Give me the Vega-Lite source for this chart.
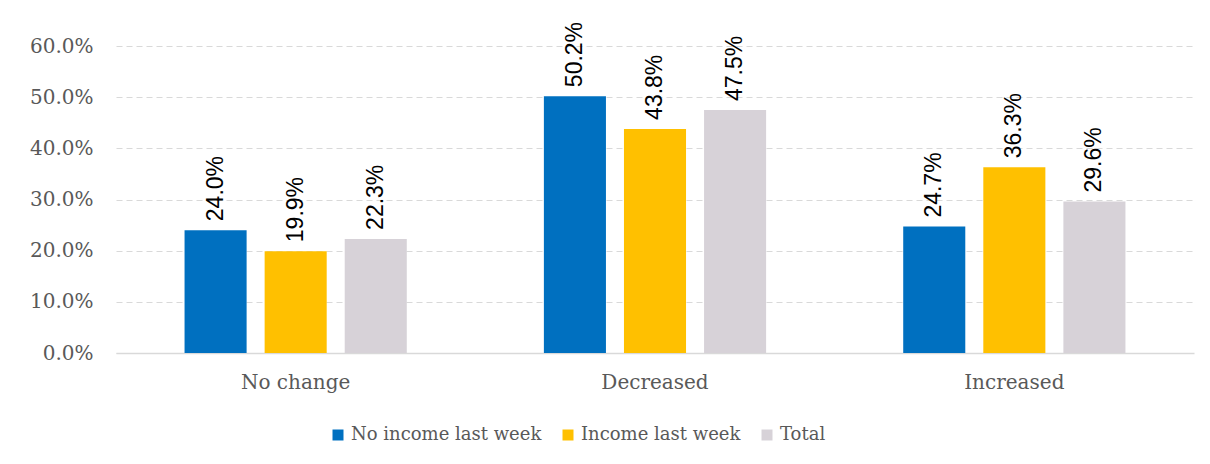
{
  "$schema": "https://vega.github.io/schema/vega-lite/v6.json",
  "autosize": "none",
  "width": 1078,
  "height": 307,
  "padding": {"left": 116, "top": 46, "right": 16, "bottom": 111},
  "background": "white",
  "data": {
    "values": [
      {"category": "No change", "group": "No income last week", "value": 0.240},
      {"category": "No change", "group": "Income last week", "value": 0.199},
      {"category": "No change", "group": "Total", "value": 0.223},
      {"category": "Decreased", "group": "No income last week", "value": 0.502},
      {"category": "Decreased", "group": "Income last week", "value": 0.438},
      {"category": "Decreased", "group": "Total", "value": 0.475},
      {"category": "Increased", "group": "No income last week", "value": 0.247},
      {"category": "Increased", "group": "Income last week", "value": 0.363},
      {"category": "Increased", "group": "Total", "value": 0.296}
    ]
  },
  "encoding": {
    "x": {
      "field": "category", "type": "nominal", "sort": ["No change", "Decreased", "Increased"],
      "scale": {"paddingInner": 0, "paddingOuter": 0},
      "axis": {"title": null, "labelAngle": 0, "ticks": false, "labelPadding": 19, "labelFont": "DejaVu Serif", "labelFontSize": 20, "labelColor": "#595959", "domainColor": "#D9D9D9", "domainWidth": 1.5, "grid": false}
    },
    "xOffset": {
      "field": "group", "type": "nominal", "sort": ["No income last week", "Income last week", "Total"],
      "scale": {"paddingInner": 0.225, "paddingOuter": 0.856}
    },
    "y": {
      "field": "value", "type": "quantitative",
      "scale": {"domain": [0, 0.6], "nice": false},
      "axis": {"title": null, "format": ".1%", "values": [0, 0.1, 0.2, 0.3, 0.4, 0.5, 0.6], "ticks": false, "domain": false, "labelPadding": 23, "labelFont": "DejaVu Serif", "labelFontSize": 20, "labelColor": "#595959", "gridColor": "#D9D9D9", "gridDash": [6, 4], "gridWidth": 1.2}
    }
  },
  "layer": [
    {
      "mark": {"type": "bar"},
      "encoding": {
        "color": {
          "field": "group", "type": "nominal", "sort": ["No income last week", "Income last week", "Total"],
          "scale": {"domain": ["No income last week", "Income last week", "Total"], "range": ["#0070C0", "#FFC000", "#D7D2D8"]},
          "legend": {"title": null, "orient": "none", "legendX": 213, "legendY": 380, "direction": "horizontal", "symbolType": "square", "symbolSize": 121, "symbolStrokeWidth": 0, "labelFont": "DejaVu Serif", "labelFontSize": 18, "labelColor": "#595959", "labelLimit": 0, "columnPadding": 17, "symbolOffset": 0, "labelOffset": 4}
        }
      }
    },
    {
      "mark": {"type": "text", "angle": 270, "align": "left", "baseline": "middle", "dx": 9, "font": "Liberation Sans", "fontSize": 23, "color": "#000000"},
      "encoding": {
        "text": {"field": "value", "type": "quantitative", "format": ".1%"}
      }
    }
  ],
  "config": {
    "view": {"stroke": null}
  }
}
